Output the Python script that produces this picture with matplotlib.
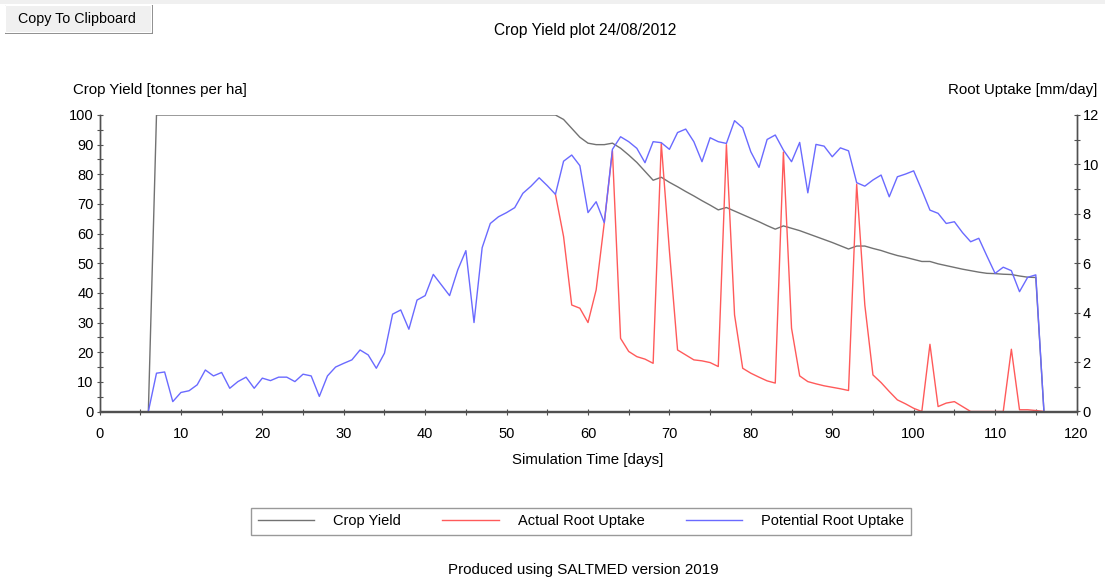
import numpy as np
import matplotlib
matplotlib.use("Agg")
import matplotlib.pyplot as plt
from matplotlib.patches import Rectangle
from matplotlib.lines import Line2D
from matplotlib.ticker import MultipleLocator

plt.rcParams['font.family'] = ['Liberation Sans', 'DejaVu Sans']
plt.rcParams['font.size'] = 10

# simulation days with output
days = list(range(6, 117))

# crop yield [tonnes per ha]
crop_yield = [0] + [100] * 50 + [
    98.5, 95.5, 92.5, 90.5, 90.0, 90.0, 90.5, 88.8, 86.5, 84.0,
    81.0, 78.0, 79.0, 77.3, 75.8, 74.2, 72.7, 71.1, 69.6, 68.0,
    68.8, 67.6, 66.4, 65.2, 64.0, 62.7, 61.5, 62.6, 61.8, 61.0,
    60.0, 59.0, 58.0, 57.0, 55.9, 54.8, 55.8, 55.8, 55.0, 54.3,
    53.4, 52.6, 52.0, 51.3, 50.6, 50.6, 49.8, 49.2, 48.6, 48.0,
    47.5, 47.0, 46.6, 46.5, 46.3, 46.2, 45.7, 45.3, 45.2, 0]

# potential root uptake [mm/day]
potential = [
    0.00, 1.55, 1.60, 0.40, 0.77, 0.84, 1.08, 1.68, 1.44, 1.58,   # 6-15
    0.94, 1.21, 1.39, 0.94, 1.35, 1.25, 1.39, 1.39, 1.21, 1.51,   # 16-25
    1.44, 0.61, 1.44, 1.80, 1.95, 2.09, 2.49, 2.29, 1.75, 2.36,   # 26-35
    3.94, 4.11, 3.33, 4.51, 4.69, 5.55, 5.12, 4.69, 5.73, 6.51,   # 36-45
    3.60, 6.63, 7.61, 7.88, 8.05, 8.25, 8.83, 9.12, 9.46, 9.14,   # 46-55
    8.79, 10.13, 10.38, 9.95, 8.05, 8.49, 7.64, 10.61, 11.12, 10.92,  # 56-65
    10.65, 10.07, 10.92, 10.88, 10.61, 11.29, 11.43, 10.92, 10.11, 11.08,  # 66-75
    10.92, 10.85, 11.77, 11.48, 10.51, 9.88, 11.01, 11.19, 10.58, 10.11,  # 76-85
    10.89, 8.85, 10.81, 10.74, 10.31, 10.67, 10.55, 9.26, 9.12, 9.37,  # 86-95
    9.57, 8.69, 9.50, 9.61, 9.74, 8.96, 8.15, 8.02, 7.61, 7.68,   # 96-105
    7.24, 6.87, 7.01, 6.29, 5.59, 5.84, 5.70, 4.85, 5.43, 5.53,   # 106-115
    0.00]                                                          # 116

# actual root uptake [mm/day], same as potential until day 55
actual = potential[:50] + [
    8.79, 7.08, 4.31, 4.18, 3.60, 4.92, 7.64, 10.55, 2.96, 2.43,  # 56-65
    2.22, 2.12, 1.95, 10.85, 6.50, 2.49, 2.29, 2.09, 2.05, 1.98,  # 66-75
    1.82, 10.80, 3.91, 1.75, 1.55, 1.39, 1.24, 1.15, 10.50, 3.37,  # 76-85
    1.44, 1.21, 1.12, 1.04, 0.98, 0.92, 0.85, 9.20, 4.31, 1.48,   # 86-95
    1.17, 0.81, 0.47, 0.31, 0.13, 0.00, 2.72, 0.20, 0.34, 0.40,   # 96-105
    0.20, 0.00, 0.00, 0.00, 0.00, 0.00, 2.52, 0.07, 0.07, 0.04,   # 106-115
    0.00]

W, H = 1105, 578
fig = plt.figure(figsize=(W / 100, H / 100), dpi=100)

ax = fig.add_axes([99.5 / W, 1 - 411.5 / H, (1076.5 - 99.5) / W, (411.5 - 115) / H])
ax2 = ax.twinx()

grey = '#727272'
red = '#ff5a5a'
blue = '#6a6aff'

ax.plot(days, crop_yield, color=grey, lw=1.0)
# before day 56 the actual uptake lies exactly under the potential line
i56 = days.index(56)
ax2.plot(days[i56:], actual[i56:], color=red, lw=1.0)
ax2.plot(days, potential, color=blue, lw=1.0)

ax.set_xlim(0, 120)
ax.set_ylim(0, 100)
ax2.set_ylim(0, 12)

ax.xaxis.set_major_locator(MultipleLocator(10))
ax.xaxis.set_minor_locator(MultipleLocator(5))
ax.yaxis.set_major_locator(MultipleLocator(10))
ax.yaxis.set_minor_locator(MultipleLocator(5))
ax2.yaxis.set_major_locator(MultipleLocator(2))
ax2.yaxis.set_minor_locator(MultipleLocator(1))

spine_col = '#505050'
for a in (ax, ax2):
    a.spines['top'].set_visible(False)
    for s in ('left', 'right', 'bottom'):
        a.spines[s].set_color(spine_col)
        a.spines[s].set_linewidth(1.0)
    a.tick_params(which='both', direction='inout', length=4.5, width=0.8,
                  color=spine_col, labelsize=10.5)
ax.tick_params(axis='y', pad=2)
ax2.tick_params(axis='y', pad=2)
ax.tick_params(axis='x', pad=9)
ax.patch.set_visible(False)

fig.text(73 / W, 1 - 90 / H, 'Crop Yield [tonnes per ha]', ha='left', va='center', fontsize=10.8)
fig.text(1097 / W, 1 - 90 / H, 'Root Uptake [mm/day]', ha='right', va='center', fontsize=10.8)
fig.text(588 / W, 1 - 460 / H, 'Simulation Time [days]', ha='center', va='center', fontsize=10.8)
fig.text(585 / W, 1 - 30 / H, 'Crop Yield plot 24/08/2012', ha='center', va='center', fontsize=11.2)
fig.text(583 / W, 1 - 570 / H, 'Produced using SALTMED version 2019', ha='center', va='center', fontsize=10.9)

# top strip and "Copy To Clipboard" button
fig.patches.append(Rectangle((0, 1 - 4 / H), 1, 4 / H, transform=fig.transFigure,
                             facecolor='#f0f0f0', edgecolor='none'))
fig.patches.append(Rectangle((5 / W, 1 - 34 / H), 148 / W, 29 / H, transform=fig.transFigure,
                             facecolor='#8c8c8c', edgecolor='none'))
fig.patches.append(Rectangle((5 / W, 1 - 32 / H), 146 / W, 27 / H, transform=fig.transFigure,
                             facecolor='#f0f0f0', edgecolor='#ffffff', lw=0.8))
fig.text(77 / W, 1 - 19.5 / H, 'Copy To Clipboard', ha='center', va='center', fontsize=10.3)

handles = [Line2D([], [], color=grey, lw=1.0),
           Line2D([], [], color=red, lw=1.0),
           Line2D([], [], color=blue, lw=1.0)]
labels = ['Crop Yield', 'Actual Root Uptake', 'Potential Root Uptake']
leg = fig.legend(handles, labels, loc='center', bbox_to_anchor=(581 / W, 1 - 521.5 / H),
                 ncol=3, fontsize=10.5, frameon=True, fancybox=False, handlelength=3.9,
                 handletextpad=1.3, columnspacing=2.8, borderpad=0.45, borderaxespad=0)
leg.get_frame().set_edgecolor('#808080')
leg.get_frame().set_linewidth(1.0)

fig.savefig('out.png', dpi=100)
